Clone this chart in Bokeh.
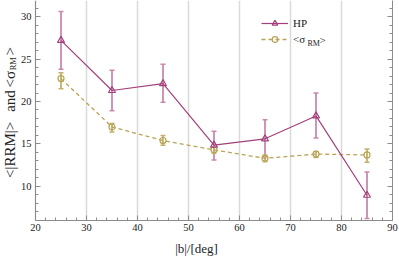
import math
from bokeh.plotting import figure
from bokeh.models import (ColumnDataSource, Whisker, TeeHead, Label, Legend, LegendItem,
                          LinearAxis, SingleIntervalTicker, Range1d)
from bokeh.embed import file_html
from bokeh.resources import INLINE

# ---- data ----
b_deg = [25, 35, 45, 55, 65, 75, 85]
hp_mean = [27.2, 21.3, 22.1, 14.85, 15.6, 18.3, 8.95]
hp_upper = [30.6, 23.7, 24.4, 16.5, 17.85, 21.0, 11.7]
hp_lower = [23.8, 18.9, 19.9, 13.1, 13.5, 15.7, 6.2]
sig_mean = [22.7, 17.0, 15.4, 14.3, 13.3, 13.8, 13.7]
sig_upper = [23.4, 17.4, 16.0, 14.6, 13.7, 14.1, 14.4]
sig_lower = [21.5, 16.4, 14.85, 13.9, 12.9, 13.4, 12.85]

y_tick_labels = [10, 15, 20, 25, 30]
x_ticks_interval = 10
y_ticks_interval = 5
X_MIN, X_MAX = 20, 90

FONT = "Liberation Serif"
HP_LINE = "#a3407c"
HP_ERR = "#c98aae"
SIG_LINE = "#b8a455"
SIG_ERR = "#c4b26a"
FRAME = "#8c8c8c"
TXT = "#222222"

src = ColumnDataSource(dict(b=b_deg, hp=hp_mean, hp_u=hp_upper, hp_l=hp_lower,
                            sig=sig_mean, sig_u=sig_upper, sig_l=sig_lower))

# frame spans the whole width; the data area starts at x=20 (35px in)
PX_PER_X = 5.1
PX_PER_Y = 8.52
Y_TOP = 31.91
x_start = X_MIN - 35 / PX_PER_X
p = figure(width=399, height=258, x_range=Range1d(x_start, X_MAX), y_range=Range1d(5.97, Y_TOP),
           output_backend="svg", toolbar_location=None,
           min_border_left=0, min_border_right=7, min_border_top=0, min_border_bottom=37,
           outline_line_color=None, background_fill_color="white", border_fill_color="white")

xt = SingleIntervalTicker(interval=x_ticks_interval, num_minor_ticks=5)
yt = SingleIntervalTicker(interval=y_ticks_interval, num_minor_ticks=5)

def style_axis(ax, labels=True):
    ax.axis_line_color = FRAME
    ax.axis_line_width = 1
    ax.major_tick_line_color = FRAME
    ax.minor_tick_line_color = FRAME
    ax.major_tick_in = 5
    ax.major_tick_out = 0
    ax.minor_tick_in = 3
    ax.minor_tick_out = 0
    if labels:
        ax.major_label_text_font = FONT
        ax.major_label_text_font_size = "10.5px"
        ax.major_label_text_color = TXT
        ax.major_label_standoff = 3
    else:
        ax.major_label_overrides = {v: "" for v in range(0, 40, y_ticks_interval)}
        ax.major_label_standoff = 0

p.xaxis.ticker = xt
p.yaxis.ticker = yt
style_axis(p.xaxis[0])
style_axis(p.yaxis[0], labels=False)
p.xaxis.bounds = (X_MIN, X_MAX)
p.yaxis.fixed_location = X_MIN
p.xaxis.axis_label = "|b|/[deg]"
p.xaxis.axis_label_text_font = FONT
p.xaxis.axis_label_text_font_size = "13px"
p.xaxis.axis_label_text_font_style = "normal"
p.xaxis.axis_label_text_color = TXT
p.xaxis.axis_label_standoff = 7

ra = LinearAxis(ticker=yt)
style_axis(ra, labels=False)
p.add_layout(ra, "right")

p.xgrid.ticker = xt
p.xgrid.grid_line_color = "#dadada"
p.xgrid.grid_line_width = 1.5
p.ygrid.visible = False

# y tick labels (placed at x = 20 through the data scale)
for v in y_tick_labels:
    p.add_layout(Label(x=X_MIN, y=v, x_offset=-4, text=str(v), text_font=FONT,
                       text_font_size="10.5px", text_color=TXT, text_align="right",
                       text_baseline="middle"))

# ---- error bars ----
for up, lo, col in (("hp_u", "hp_l", HP_ERR), ("sig_u", "sig_l", SIG_ERR)):
    w = Whisker(source=src, base="b", upper=up, lower=lo, line_color=col, line_width=1.8,
                upper_head=TeeHead(size=5, line_color=col, line_width=1.5),
                lower_head=TeeHead(size=5, line_color=col, line_width=1.5))
    p.add_layout(w)

# ---- series ----
sig_line = p.line("b", "sig", source=src, line_color=SIG_LINE, line_width=1.3, line_dash="4 3")
sig_pts = p.scatter("b", "sig", source=src, marker="circle", size=6, line_color=SIG_LINE,
                    fill_color=None, line_width=1.2)
hp_line = p.line("b", "hp", source=src, line_color=HP_LINE, line_width=1.2)
hp_pts = p.scatter("b", "hp", source=src, marker="triangle", size=7, line_color=HP_LINE,
                   fill_color=None, line_width=1.2)

legend = Legend(items=[LegendItem(label="HP", renderers=[hp_line, hp_pts]),
                       LegendItem(label="<σ", renderers=[sig_line, sig_pts])],
                location=(261, 174), padding=0, margin=0, spacing=2,
                glyph_width=27, glyph_height=14, label_height=14, label_standoff=5,
                border_line_color=None, background_fill_color=None,
                label_text_font=FONT, label_text_font_size="11px", label_text_color=TXT)
p.add_layout(legend)

def px_x(px):
    return X_MIN + (px - 35) / PX_PER_X

def px_y(py):
    return Y_TOP - py / PX_PER_Y

# legend subscript pieces
p.add_layout(Label(x=px_x(307), y=px_y(43), text="RM", text_font=FONT, text_font_size="8px",
                   text_color=TXT, text_baseline="middle", text_align="left"))
p.add_layout(Label(x=px_x(319), y=px_y(40), text=">", text_font=FONT, text_font_size="11px",
                   text_color=TXT, text_baseline="middle", text_align="left"))

# y axis title "<|RRM|> and <σ_RM>", piece by piece (centre px positions)
ang = math.pi / 2
ylab_parts = [("<|RRM|>", 9.5, 150, "15px"), ("and", 9.5, 101, "15px"),
              ("<σ", 9.5, 79, "15px"), ("RM", 12.0, 63.5, "8.5px"), (">", 9.5, 51, "15px")]
for txt, cx, cy, fs in ylab_parts:
    p.add_layout(Label(x=px_x(cx), y=px_y(cy), text=txt, angle=ang, text_font=FONT,
                       text_font_size=fs, text_color=TXT, text_align="center",
                       text_baseline="middle"))

open("out.html", "w").write(file_html(p, INLINE))
